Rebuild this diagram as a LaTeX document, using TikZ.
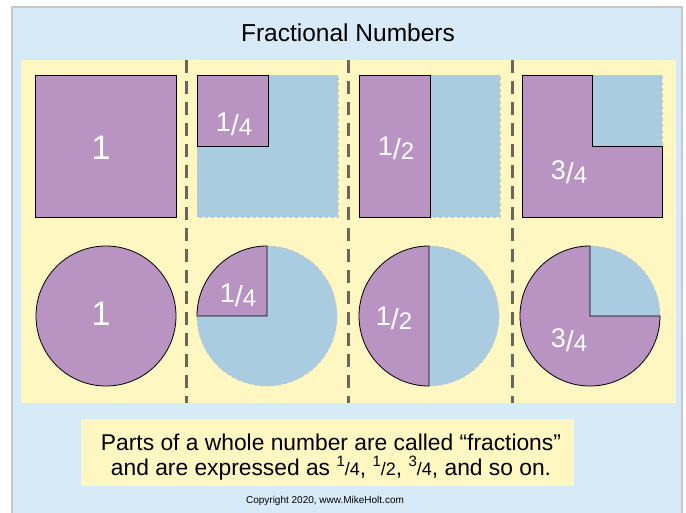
\documentclass[tikz,border=0pt]{standalone}
\usepackage{fontspec}
\setmainfont{Liberation Sans}
\usetikzlibrary{positioning}

\definecolor{bgblue}{HTML}{D6EAF8}
\definecolor{framegray}{HTML}{C6C6C6}
\definecolor{panelyellow}{HTML}{FFF7C2}
\definecolor{partpurple}{HTML}{B994C3}
\definecolor{restblue}{HTML}{A9CCE0}
\definecolor{divgray}{HTML}{666666}

% fraction with raised numerator, used inside the shapes
\newcommand{\bigfrac}[2]{{\fontsize{27}{27}\selectfont\raisebox{4pt}{#1}}{\fontsize{29}{29}\selectfont/}{\fontsize{24}{24}\selectfont#2}}
% small fraction for the caption
\newcommand{\txtfrac}[2]{\raisebox{0.38em}{\fontsize{15}{15}\selectfont #1}{\fontsize{18}{18}\selectfont/#2}}

\begin{document}
\begin{tikzpicture}[x=1pt, y=-1pt,
    part/.style={fill=partpurple, draw=black, line width=0.8pt},
    rest/.style={fill=restblue, draw=framegray, dashed, line width=0.8pt},
    lab/.style={text=white, font=\fontsize{24}{24}\selectfont, inner sep=0pt},
    divider/.style={divgray, line width=3pt, dash pattern=on 13pt off 8pt}]
    \useasboundingbox (0,0) rectangle (686,512);

    % background and panels
    \fill[white] (0,0) rectangle (686,512);
    \draw[fill=bgblue, draw=framegray, line width=2pt] (12,7) rectangle (682,515);
    \fill[panelyellow] (21,60) rectangle (676,403);
    \fill[panelyellow] (81,419) rectangle (574,486);

    \foreach \x in {186,348,512}
      \draw[divider] (\x,60) -- (\x,403);

    % squares
    \draw[part] (35,75) rectangle (176,217);
    \draw[rest] (197,75) rectangle (338,217);
    \draw[part] (197,75) rectangle (268,146);
    \draw[rest] (359,75) rectangle (500,217);
    \draw[part] (359,75) rectangle (430,217);
    \draw[rest] (522,75) rectangle (662,217);
    \draw[part] (522,75) -- (592,75) -- (592,146) -- (662,146) -- (662,217) -- (522,217) -- cycle;

    % circles
    \draw[part] (106,316) circle (70);
    \draw[rest] (267,316) circle (70);
    \draw[part] (267,316) -- (197,316) arc[start angle=180, end angle=270, radius=70] -- cycle;
    \draw[rest] (429,316) circle (70);
    \draw[part] (429,316) -- (429,246) arc[start angle=270, end angle=90, radius=70] -- cycle;
    \draw[rest] (590,316) circle (70);
    \draw[part] (590,316) -- (590,246) arc[start angle=270, end angle=0, radius=70] -- cycle;

    % labels
    \node[lab, font=\fontsize{34}{34}\selectfont] (one-sq) at (101,148) {1};
    \node[lab] (quarter-sq) at (234,124) {\bigfrac{1}{4}};
    \node[lab] (half-sq) at (396,148) {\bigfrac{1}{2}};
    \node[lab] (threeq-sq) at (569,172) {\bigfrac{3}{4}};
    \node[lab, font=\fontsize{34}{34}\selectfont] (one-ci) at (101,314) {1};
    \node[lab] (quarter-ci) at (238,295) {\bigfrac{1}{4}};
    \node[lab] (half-ci) at (394,318) {\bigfrac{1}{2}};
    \node[lab] (threeq-ci) at (569,340) {\bigfrac{3}{4}};

    % texts
    \node[font=\fontsize{24.5}{24.5}\selectfont] (title) at (348,33) {Fractional Numbers};
    \node[font=\fontsize{22.8}{25.5}\selectfont, align=center] (caption) at (331,457)
      {Parts of a whole number are called “fractions”\\
       and are expressed as \txtfrac{1}{4}, \txtfrac{1}{2}, \txtfrac{3}{4}, and so on.};
    \node[font=\fontsize{10}{10}\selectfont] (copyright) at (325,501) {Copyright 2020, www.MikeHolt.com};
\end{tikzpicture}
\end{document}
